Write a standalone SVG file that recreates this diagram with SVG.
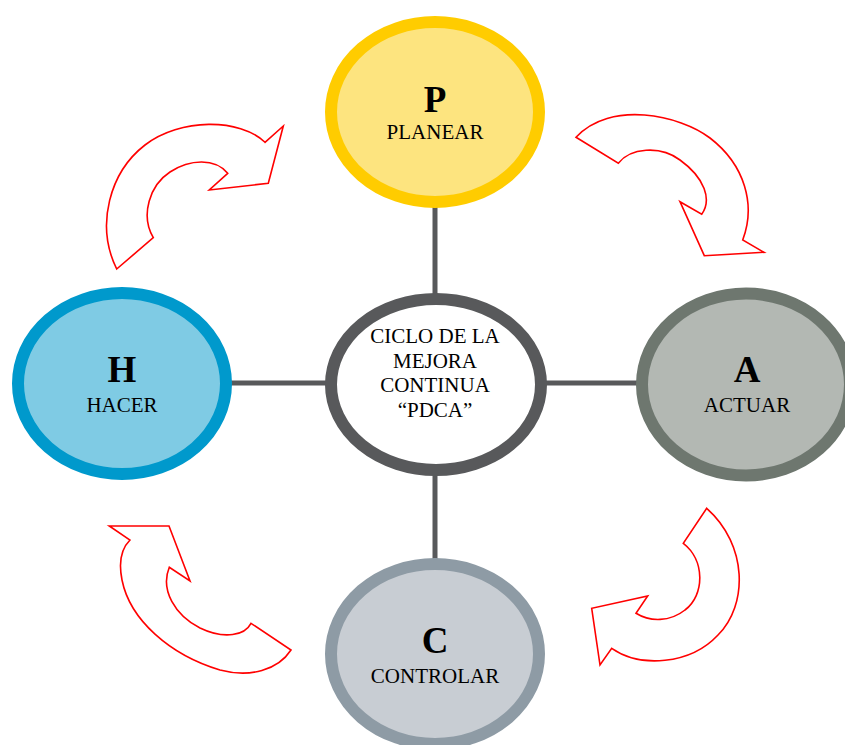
<svg xmlns="http://www.w3.org/2000/svg" width="845" height="745" viewBox="0 0 845 745">
  <style>
    .lbl { font-family: "Liberation Serif", "Times New Roman", serif; fill: #000; text-anchor: middle; }
    .big { font-size: 37px; font-weight: bold; }
    .sub { font-size: 21px; }
    .ring { stroke-width: 12; }
    .link { stroke: #58595B; stroke-width: 5; fill: none; }
    .cycle { fill: #FFFFFF; stroke: #FF0000; stroke-width: 1.6; stroke-linejoin: miter; }
  </style>
  <rect width="845" height="745" fill="#FFFFFF"/>

  <!-- spokes from the hub to each phase -->
  <g id="connectors">
    <line class="link" x1="435" y1="206" x2="435" y2="296"/>
    <line class="link" x1="230" y1="383" x2="328" y2="383"/>
    <line class="link" x1="544" y1="383" x2="640" y2="383"/>
    <line class="link" x1="435" y1="473" x2="435" y2="562"/>
  </g>

  <!-- curved cycle arrows -->
  <g id="cycle-arrows">
    <path class="cycle" d="M116.7,269 L153.3,237.7 C140,215 150,185 170,172 C190,159 215,158 227.7,173.3 L209.3,190 L268.3,183.3 L283.3,126 L265,142.3 C240,118 180,118 145,145 C110,172 95,225 116.7,269 Z"/>
    <path class="cycle" d="M576,137.3 L618.3,163.3 C630,148 660,145 680,160 C705,178 712,200 701.7,214.3 L680,201.7 L704.3,255.7 L764,252.3 L742.7,240 C756,205 745,165 710,138 C680,115 610,100 576,137.3 Z"/>
    <path class="cycle" d="M706.7,508.3 L683.3,543.3 C705,560 705,595 685,610 C670,622 650,622 636,613.3 L647.7,596 L591.7,608.3 L600,665 L611.7,648.3 C640,668 690,665 718,635 C748,605 748,545 706.7,508.3 Z"/>
    <path class="cycle" d="M109.3,526 L169,526 L190,581 L169.3,567.3 C160,590 175,615 200,628 C225,640 245,635 251,623.3 L291,650 C278,670 250,678 220,670 C170,655 130,620 122,580 C118,560 122,548 130,540 Z"/>
  </g>

  <g id="node-center">
    <ellipse class="ring" cx="436" cy="384.5" rx="105" ry="85.5" fill="#FFFFFF" stroke="#58595B"/>
    <text class="lbl sub" x="435" y="343">CICLO DE LA</text>
    <text class="lbl sub" x="435" y="368">MEJORA</text>
    <text class="lbl sub" x="435" y="392">CONTINUA</text>
    <text class="lbl sub" x="435" y="417">“PDCA”</text>
  </g>

  <g id="node-p">
    <ellipse class="ring" cx="435" cy="112" rx="104" ry="90" fill="#FDE47F" stroke="#FFCC00"/>
    <text class="lbl big" x="435" y="112">P</text>
    <text class="lbl sub" x="435" y="139">PLANEAR</text>
  </g>

  <g id="node-h">
    <ellipse class="ring" cx="122" cy="383.5" rx="104" ry="90.5" fill="#7FCBE4" stroke="#0099CC"/>
    <text class="lbl big" x="122" y="382">H</text>
    <text class="lbl sub" x="122" y="412">HACER</text>
  </g>

  <g id="node-a">
    <ellipse class="ring" cx="746" cy="384.5" rx="104" ry="91" fill="#B3B8B3" stroke="#6E776F"/>
    <text class="lbl big" x="747" y="382">A</text>
    <text class="lbl sub" x="747" y="412">ACTUAR</text>
  </g>

  <g id="node-c">
    <ellipse class="ring" cx="435" cy="654" rx="104" ry="90" fill="#C8CDD3" stroke="#8E9BA5"/>
    <text class="lbl big" x="435" y="653">C</text>
    <text class="lbl sub" x="435" y="683">CONTROLAR</text>
  </g>
</svg>
